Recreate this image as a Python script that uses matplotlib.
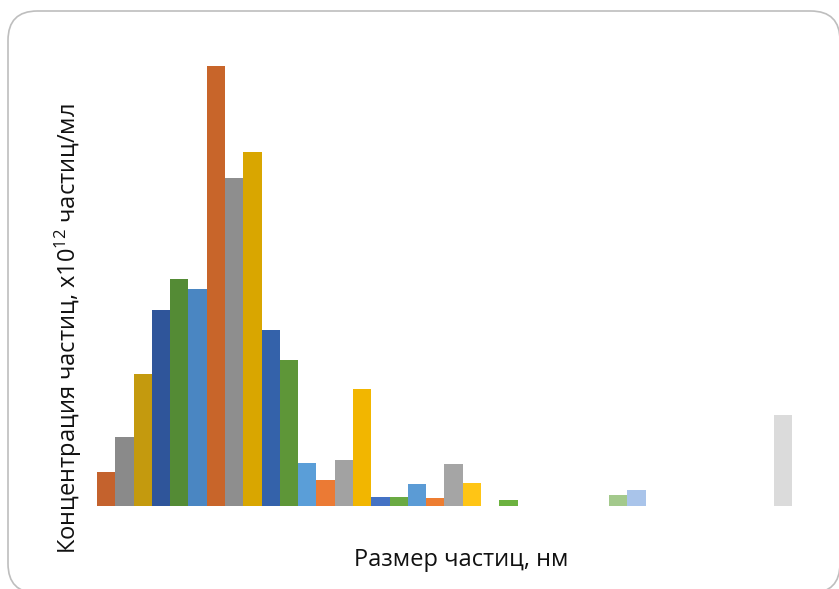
import matplotlib.pyplot as plt
from matplotlib.patches import FancyBboxPatch

plt.rcParams['font.family'] = ['Open Sans', 'DejaVu Sans']
plt.rcParams['mathtext.fontset'] = 'custom'
plt.rcParams['mathtext.rm'] = 'Open Sans'
plt.rcParams['mathtext.it'] = 'Open Sans'

# concentration per size bin (arbitrary units)
concentrations = [0.34, 0.69, 1.32, 1.96, 2.27, 2.17, 4.40, 3.28, 3.54, 1.76,
                  1.46, 0.43, 0.26, 0.46, 1.17, 0.09, 0.09, 0.22, 0.08, 0.42,
                  0.23, 0.0, 0.06, 0.0, 0.0, 0.0, 0.0, 0.0, 0.11, 0.16,
                  0.0, 0.0, 0.0, 0.0, 0.0, 0.0, 0.0, 0.91]

bar_colors = ['#C4622D', '#8A8A8A', '#C49A0E', '#2F559A', '#548B35', '#4A86C2',
              '#C8652A', '#8E8E8E', '#D9A600', '#3462AA', '#5E9638', '#5A9ED8',
              '#EB7A34', '#A2A2A2', '#F2B600', '#4472C4', '#6AAA43', '#5B9BD5',
              '#ED7D31', '#A5A5A5', '#FFC515', '#4472C4', '#6CB23F', '#5B9BD5',
              '#ED7D31', '#A5A5A5', '#FFC000', '#4472C4', '#A3C98C', '#A9C4EA',
              '#F4B183', '#C9C9C9', '#FFD966', '#8FAADC', '#A9D18E', '#9DC3E6',
              '#F8CBAD', '#DBDBDB']

W, H = 839, 589
fig = plt.figure(figsize=(W / 100, H / 100), dpi=100)

frame = FancyBboxPatch((8 / W, -4 / H), 832 / W, (H - 11 + 4) / H,
                       boxstyle="round,pad=0,rounding_size=0.035",
                       transform=fig.transFigure, facecolor='white',
                       edgecolor='#BEBEBE', linewidth=1.2, mutation_aspect=W / H,
                       zorder=-5)
fig.patches.append(frame)

ax = fig.add_axes([97 / W, (H - 506) / H, 695 / W, 466 / H])
ax.set_facecolor('none')
x = range(len(concentrations))
ax.bar(x, concentrations, width=1.0, color=bar_colors, linewidth=0)
ax.set_xlim(-0.5, len(concentrations) - 0.5)
ax.set_ylim(0, 4.66)
ax.axis('off')

fig.text(68 / W, 1 - 329 / H,
         'Концентрация частиц, x10$^{12}$ частиц/мл',
         rotation=90, ha='center', va='center', fontsize=17, color='#111111')
fig.text(461 / W, 1 - 560 / H, 'Размер частиц, нм',
         ha='center', va='center', fontsize=17, color='#111111')

fig.savefig('out.png', dpi=100)
